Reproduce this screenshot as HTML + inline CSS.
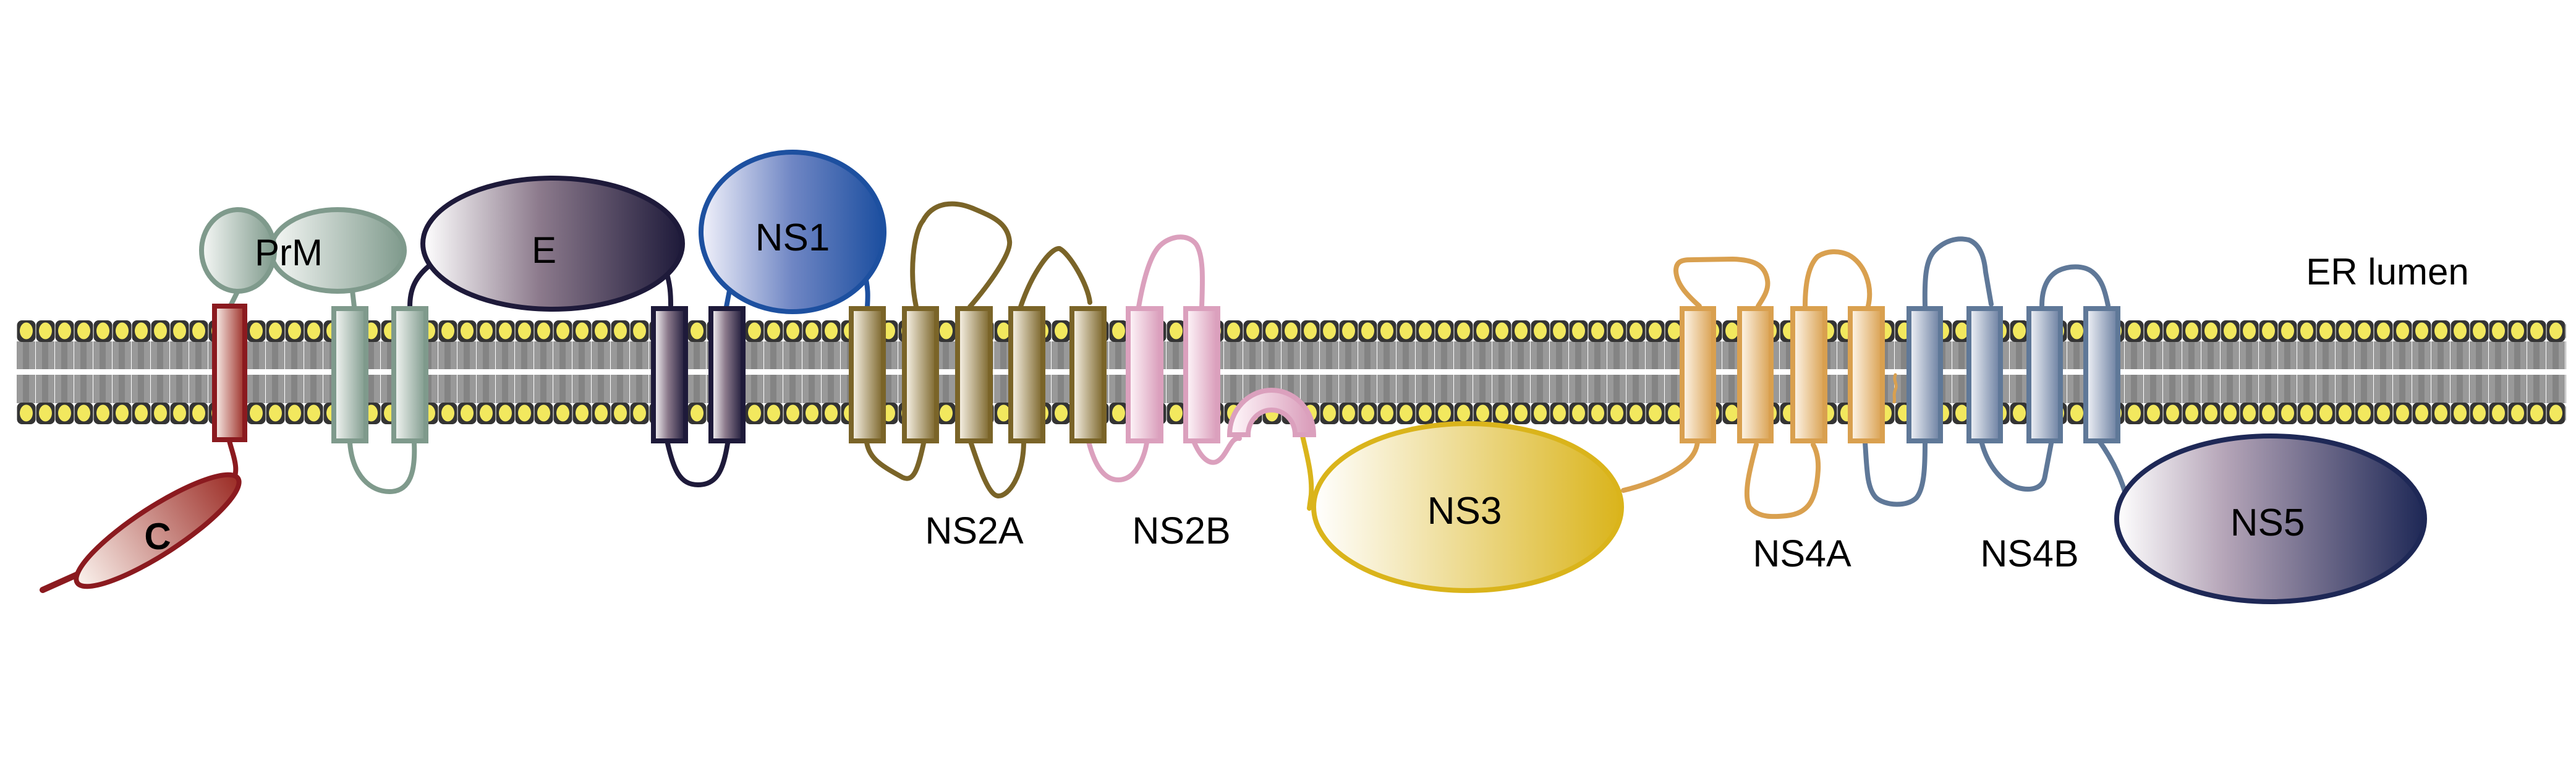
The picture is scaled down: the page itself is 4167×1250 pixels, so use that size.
<!DOCTYPE html>
<html><head><meta charset="utf-8"><style>html,body{margin:0;padding:0;background:#fff}svg{display:block}</style></head>
<body>
<svg width="4167" height="1250" viewBox="0 0 4167 1250" xmlns="http://www.w3.org/2000/svg" font-family="Liberation Sans, Arial, sans-serif">
<defs>
<pattern id="heads" x="27" y="0" width="31" height="1250" patternUnits="userSpaceOnUse">
<rect x="0.5" y="518" width="30" height="35" rx="8" fill="#343434"/>
<ellipse cx="15.5" cy="535" rx="10.5" ry="13.5" fill="#f2e85e"/>
<rect x="0.5" y="651" width="30" height="35" rx="8" fill="#343434"/>
<ellipse cx="15.5" cy="668" rx="10.5" ry="13.5" fill="#f2e85e"/>
</pattern>
<pattern id="tails" x="27" y="0" width="31" height="1250" patternUnits="userSpaceOnUse">
<rect x="0" y="552" width="30" height="45" fill="#999"/>
<rect x="10" y="552" width="10" height="45" fill="#848484"/>
<rect x="0" y="606" width="30" height="46" fill="#999"/>
<rect x="10" y="606" width="10" height="46" fill="#848484"/>
</pattern>
<linearGradient id="gC" x1="0" x2="1"><stop offset="0" stop-color="#fbf3ee"/><stop offset="1" stop-color="#9c2d26"/></linearGradient>
<linearGradient id="gP" x1="0" x2="1"><stop offset="0" stop-color="#f6f8f6"/><stop offset="1" stop-color="#7f9a8c"/></linearGradient>
<linearGradient id="gE" x1="0" x2="1"><stop offset="0" stop-color="#fff"/><stop offset="0.45" stop-color="#8c7a8c"/><stop offset="1" stop-color="#1e1a3a"/></linearGradient>
<linearGradient id="gN1" x1="0" x2="1"><stop offset="0" stop-color="#f2f2fb"/><stop offset="0.5" stop-color="#6f86c4"/><stop offset="1" stop-color="#1b4e9f"/></linearGradient>
<linearGradient id="g2A" x1="0" x2="1"><stop offset="0" stop-color="#fdf8ee"/><stop offset="1" stop-color="#7a6428"/></linearGradient>
<linearGradient id="g2B" x1="0" x2="1"><stop offset="0" stop-color="#fff8fb"/><stop offset="1" stop-color="#d99bb9"/></linearGradient>
<linearGradient id="g3" x1="0" x2="1"><stop offset="0" stop-color="#fff"/><stop offset="1" stop-color="#dab41b"/></linearGradient>
<linearGradient id="g4A" x1="0" x2="1"><stop offset="0" stop-color="#fff8ee"/><stop offset="1" stop-color="#d9a04f"/></linearGradient>
<linearGradient id="g4B" x1="0" x2="1"><stop offset="0" stop-color="#f4f6fa"/><stop offset="1" stop-color="#6a7ea0"/></linearGradient>
<linearGradient id="g5" x1="0" x2="1"><stop offset="0" stop-color="#fff"/><stop offset="0.35" stop-color="#b5a5b8"/><stop offset="1" stop-color="#1e2856"/></linearGradient>
</defs>

<!-- membrane -->
<rect x="27" y="552" width="4124" height="100" fill="url(#tails)"/>
<rect x="27" y="597" width="4124" height="9" fill="#fff"/>
<rect x="27" y="518" width="4124" height="168" fill="url(#heads)"/>

<g fill="none" stroke-width="8" stroke-linecap="round" stroke-linejoin="round">
<!-- C tail -->
<path d="M371 713 C378 740 388 760 375 782" stroke="#8b1a1f"/>
<path d="M69 954 L125 929" stroke="#8b1a1f" stroke-width="10"/>
<!-- PrM -->
<path d="M385 470 L373 494" stroke="#7f9a8c"/>
<path d="M570 470 L573 496" stroke="#7f9a8c"/>
<path d="M566 716 C570 770 600 795 630 795 C665 795 672 760 670 716" stroke="#7f9a8c"/>
<!-- E -->
<path d="M694 430 C670 450 663 470 663 496" stroke="#1e1a3a"/>
<path d="M1078 440 C1084 460 1085 475 1085 494" stroke="#1e1a3a"/>
<path d="M1080 717 C1090 760 1100 784 1129 784 C1160 784 1170 760 1177 717" stroke="#1e1a3a"/>
<!-- NS1 -->
<path d="M1180 470 L1175 496" stroke="#1d50a0"/>
<path d="M1398 440 C1405 465 1404 480 1403 496" stroke="#1d50a0"/>
<!-- NS2A -->
<g stroke="#7a6428">
<path d="M1401 710 C1405 740 1420 750 1460 772 C1478 780 1485 760 1495 712"/>
<path d="M1482 496 C1470 440 1478 375 1493 357 C1510 325 1545 325 1574 337 C1605 350 1630 360 1633 390 C1636 410 1600 460 1569 496"/>
<path d="M1569 711 C1585 760 1600 802 1615 802 C1632 802 1655 770 1656 716"/>
<path d="M1651 496 C1670 440 1700 400 1714 402 C1730 410 1760 460 1763 489"/>
</g>
<!-- NS2B -->
<g stroke="#dba0bd">
<path d="M1761 714 C1770 750 1785 776 1809 776 C1835 776 1850 745 1855 716"/>
<path d="M1842 496 C1850 450 1860 420 1870 405 C1885 382 1920 375 1935 395 C1948 415 1945 460 1944 496"/>
<path d="M1932 716 C1945 745 1958 750 1967 747 C1985 740 1990 705 2005 709"/>
</g>
<!-- NS3 link -->
<path d="M2107 705 C2115 740 2123 770 2121 800 L2118 822" stroke="#dab41b"/>
<!-- NS4A -->
<g stroke="#d9a04f">
<path d="M2626 793 C2660 785 2700 770 2725 750 C2740 738 2745 725 2746 714"/>
<path d="M2749 495 C2730 478 2712 460 2711 438 C2711 420 2725 420 2740 420 L2803 419 C2835 420 2855 427 2859 453 C2862 470 2850 485 2844 495"/>
<path d="M2841 719 C2830 760 2820 800 2830 820 C2845 838 2870 836 2890 834 C2925 830 2938 810 2941 760 C2942 740 2938 728 2933 719"/>
<path d="M2920 495 C2920 460 2925 430 2940 415 C2955 405 2975 405 2990 412 C3015 425 3030 460 3022 495"/>
<path d="M3066 606 C3062 615 3070 622 3066 630 C3062 640 3066 645 3064 650" stroke-width="5"/>
</g>
<!-- NS4B -->
<g stroke="#5f7898">
<path d="M3017 715 C3020 760 3020 790 3035 805 C3050 818 3085 820 3100 805 C3112 790 3114 760 3114 717"/>
<path d="M3114 495 C3113 450 3115 420 3130 405 C3145 390 3165 383 3185 388 C3205 396 3210 420 3212 440 L3221 492"/>
<path d="M3206 717 C3215 750 3235 778 3262 788 C3285 795 3305 790 3308 770 L3318 717"/>
<path d="M3303 494 C3303 470 3310 448 3329 438 C3345 430 3370 428 3385 440 C3400 452 3405 470 3410 494"/>
<path d="M3395 712 C3415 740 3430 770 3438 798"/>
</g>
</g>

<!-- C -->
<ellipse cx="255" cy="858" rx="155" ry="38" transform="rotate(-33 255 858)" fill="url(#gC)" stroke="#8b1a1f" stroke-width="8"/>
<text x="255" y="888" font-size="60" font-weight="bold" text-anchor="middle">C</text>

<!-- TM helices -->
<g stroke-width="8">
<rect x="347" y="495" width="49" height="216" fill="url(#gC)" stroke="#8b1a1f"/>
<rect x="540" y="499" width="52" height="214" fill="url(#gP)" stroke="#7f9a8c"/>
<rect x="637" y="499" width="52" height="214" fill="url(#gP)" stroke="#7f9a8c"/>
<rect x="1057" y="499" width="52" height="214" fill="url(#gE)" stroke="#1e1a3a"/>
<rect x="1150" y="499" width="52" height="214" fill="url(#gE)" stroke="#1e1a3a"/>
<g fill="url(#g2A)" stroke="#7a6428">
<rect x="1377" y="499" width="52" height="214"/>
<rect x="1463" y="499" width="52" height="214"/>
<rect x="1549" y="499" width="53" height="214"/>
<rect x="1635" y="499" width="52" height="214"/>
<rect x="1734" y="499" width="52" height="214"/>
</g>
<g fill="url(#g2B)" stroke="#dba0bd">
<rect x="1825" y="499" width="53" height="214"/>
<rect x="1918" y="499" width="52" height="214"/>
<path d="M1989 703 A68 72 0 0 1 2125 703 L2095 703 A38 40 0 0 0 2019 703 Z"/>
</g>
<g fill="url(#g4A)" stroke="#d9a04f">
<rect x="2721" y="499" width="51" height="214"/>
<rect x="2814" y="499" width="51" height="214"/>
<rect x="2900" y="499" width="52" height="214"/>
<rect x="2993" y="499" width="52" height="214"/>
</g>
<g fill="url(#g4B)" stroke="#5f7898">
<rect x="3088" y="499" width="51" height="214"/>
<rect x="3185" y="499" width="51" height="214"/>
<rect x="3282" y="499" width="51" height="214"/>
<rect x="3374" y="499" width="52" height="214"/>
</g>
</g>

<!-- globular domains -->
<ellipse cx="546" cy="405" rx="108" ry="66" fill="url(#gP)" stroke="#7f9a8c" stroke-width="8"/>
<ellipse cx="385" cy="405" rx="59" ry="66" fill="url(#gP)" stroke="#7f9a8c" stroke-width="8"/>
<text x="467" y="429" font-size="60" text-anchor="middle">PrM</text>

<ellipse cx="894" cy="394" rx="210" ry="106" fill="url(#gE)" stroke="#1e1a3a" stroke-width="8"/>
<text x="880" y="425" font-size="60" text-anchor="middle">E</text>

<ellipse cx="1282" cy="375" rx="148" ry="129" fill="url(#gN1)" stroke="#1d50a0" stroke-width="8"/>
<text x="1282" y="405" font-size="62" text-anchor="middle">NS1</text>

<ellipse cx="2374" cy="820" rx="249" ry="135" fill="url(#g3)" stroke="#dab41b" stroke-width="8"/>
<text x="2369" y="847" font-size="62" text-anchor="middle">NS3</text>

<ellipse cx="3673" cy="839" rx="249" ry="134" fill="url(#g5)" stroke="#1e2856" stroke-width="8"/>
<text x="3668" y="866" font-size="62" text-anchor="middle">NS5</text>

<g font-size="61" text-anchor="middle">
<text x="1576" y="879">NS2A</text>
<text x="1911" y="879">NS2B</text>
<text x="2915" y="916">NS4A</text>
<text x="3283" y="916">NS4B</text>
<text x="3862" y="460" font-size="60">ER lumen</text>
</g>
</svg>
</body></html>
